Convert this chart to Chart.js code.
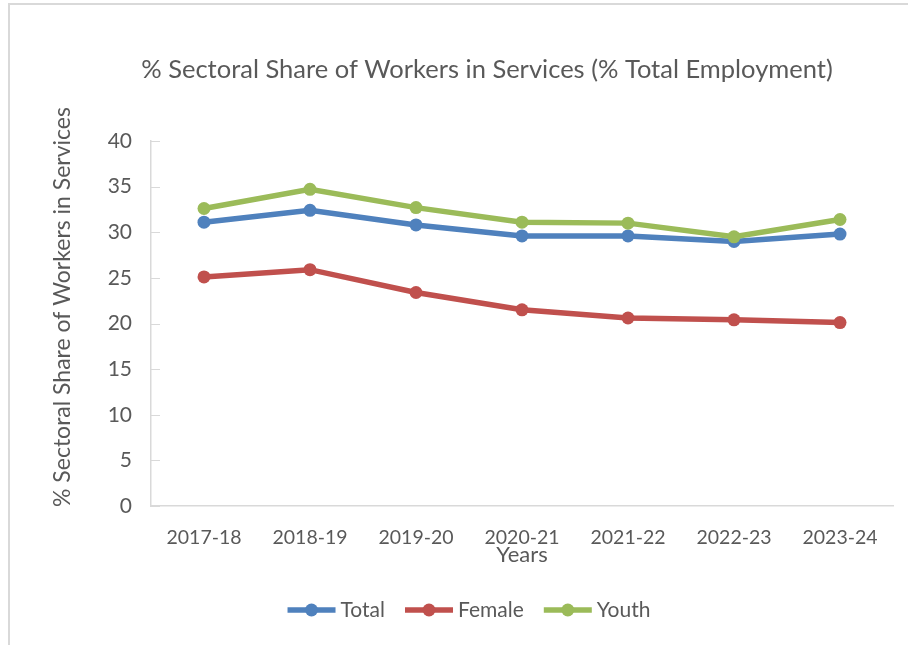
<!DOCTYPE html>
<html>
<head>
<meta charset="utf-8">
<title>Sectoral Share of Workers in Services</title>
<script src="https://cdn.jsdelivr.net/npm/chart.js@4.4.1/dist/chart.umd.min.js"></script>
<style>
  html, body { margin: 0; padding: 0; background: #ffffff; }
  #wrap { width: 908px; height: 645px; }
</style>
</head>
<body>
<div id="wrap"><canvas id="chart" width="908" height="645"></canvas></div>
<script>
// Jahre und Werte (% der Gesamtbeschäftigung)
const years = ['2017-18', '2018-19', '2019-20', '2020-21', '2021-22', '2022-23', '2023-24'];
const totalShare = [31.1, 32.4, 30.8, 29.6, 29.6, 29.0, 29.8];
const femaleShare = [25.1, 25.9, 23.4, 21.5, 20.6, 20.4, 20.1];
const youthShare = [32.6, 34.7, 32.7, 31.1, 31.0, 29.5, 31.4];
const yTicks = [0, 5, 10, 15, 20, 25, 30, 35, 40];

const chartTitle = '% Sectoral Share of Workers in Services (% Total Employment)';
const yTitle = '% Sectoral Share of Workers in Services';
const xTitle = 'Years';

const textColor = '#595959';
const axisColor = '#d9d9d9';
const fontFamily = 'Lato, "Open Sans", sans-serif';

function makeSeries(label, data, color, order) {
    return {
        label: label,
        data: data,
        borderColor: color,
        backgroundColor: color,
        borderWidth: 5.5,
        pointRadius: 6.5,
        pointHoverRadius: 6.5,
        pointBorderWidth: 0,
        tension: 0,
        order: order
    };
}

// Rahmen, Titel, Y-Achsentitel, innere Teilstriche und Legende
const decorPlugin = {
    id: 'decor',
    beforeDraw(chart) {
        const ctx = chart.ctx;
        ctx.save();
        ctx.fillStyle = '#ffffff';
        ctx.fillRect(0, 0, chart.width, chart.height);
        ctx.strokeStyle = axisColor;
        ctx.lineWidth = 2;
        ctx.beginPath();
        ctx.moveTo(9, chart.height);
        ctx.lineTo(9, 4);
        ctx.lineTo(chart.width, 4);
        ctx.stroke();
        ctx.restore();
    },
    afterDraw(chart) {
        const ctx = chart.ctx;
        const y = chart.scales.y;
        ctx.save();

        // kurze Teilstriche nach innen
        ctx.strokeStyle = axisColor;
        ctx.lineWidth = 1;
        yTicks.forEach(v => {
            const py = Math.round(y.getPixelForValue(v)) + 0.5;
            ctx.beginPath();
            ctx.moveTo(y.right, py);
            ctx.lineTo(y.right + 9, py);
            ctx.stroke();
        });

        // Diagrammtitel
        ctx.fillStyle = textColor;
        ctx.font = '25.5px ' + fontFamily;
        ctx.textAlign = 'center';
        ctx.textBaseline = 'middle';
        ctx.fillText(chartTitle, 487, 70);

        // Y-Achsentitel
        ctx.save();
        ctx.translate(63, 307);
        ctx.rotate(-Math.PI / 2);
        ctx.font = '23px ' + fontFamily;
        ctx.fillText(yTitle, 0, 0);
        ctx.restore();

        // Legende unten
        ctx.font = '21px ' + fontFamily;
        ctx.textAlign = 'left';
        const iconW = 48, gapText = 5, gapItem = 20;
        const items = chart.data.datasets.map(ds => ({
            ds: ds,
            w: iconW + gapText + ctx.measureText(ds.label).width
        }));
        const totalW = items.reduce((s, it) => s + it.w, 0) + gapItem * (items.length - 1);
        let lx = 469 - totalW / 2;
        const ly = 610;
        items.forEach(it => {
            ctx.strokeStyle = it.ds.borderColor;
            ctx.lineWidth = it.ds.borderWidth;
            ctx.beginPath();
            ctx.moveTo(lx, ly);
            ctx.lineTo(lx + iconW, ly);
            ctx.stroke();
            ctx.fillStyle = it.ds.borderColor;
            ctx.beginPath();
            ctx.arc(lx + iconW / 2, ly, it.ds.pointRadius, 0, Math.PI * 2);
            ctx.fill();
            ctx.fillStyle = textColor;
            ctx.fillText(it.ds.label, lx + iconW + gapText, ly);
            lx += it.w + gapItem;
        });
        ctx.restore();
    }
};

new Chart(document.getElementById('chart'), {
    type: 'line',
    data: {
        labels: years,
        datasets: [
            makeSeries('Total', totalShare, '#4f81bd', 3),
            makeSeries('Female', femaleShare, '#c0504d', 2),
            makeSeries('Youth', youthShare, '#9bbb59', 1)
        ]
    },
    options: {
        responsive: false,
        animation: false,
        layout: { padding: { left: 10, right: 15, top: 141, bottom: 77 } },
        plugins: {
            legend: { display: false },
            title: { display: false },
            tooltip: { enabled: false }
        },
        scales: {
            x: {
                offset: true,
                grid: { display: false },
                border: { display: true, color: axisColor, width: 1.5 },
                ticks: {
                    color: textColor,
                    font: { family: fontFamily, size: 19.5 },
                    padding: 12,
                    maxRotation: 0,
                    autoSkip: false
                },
                title: {
                    display: true,
                    text: xTitle,
                    color: textColor,
                    font: { family: fontFamily, size: 22 },
                    padding: 0
                },
                afterFit(scale) { scale.height = 62; }
            },
            y: {
                min: 0,
                max: 40,
                grid: { display: false },
                border: { display: true, color: axisColor, width: 1.5 },
                afterBuildTicks(scale) { scale.ticks = yTicks.map(v => ({ value: v })); },
                ticks: {
                    color: textColor,
                    font: { family: fontFamily, size: 21 },
                    padding: 11
                },
                afterFit(scale) { scale.width = 141; }
            }
        }
    },
    plugins: [decorPlugin]
});
</script>
</body>
</html>
